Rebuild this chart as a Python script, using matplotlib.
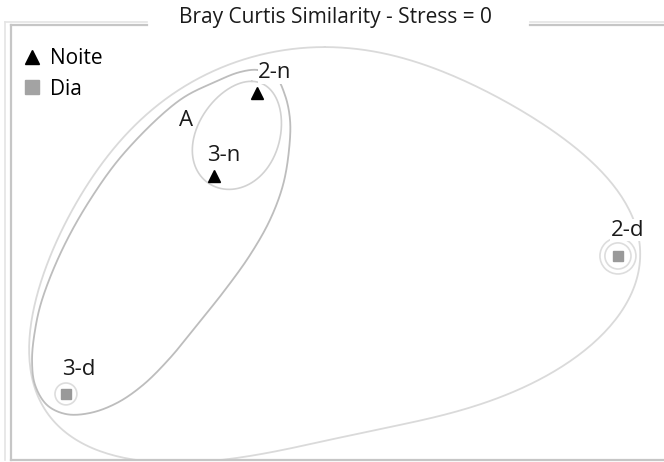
import numpy as np
import matplotlib
matplotlib.use("Agg")
import matplotlib.pyplot as plt
from matplotlib.lines import Line2D
from matplotlib.patches import Circle

plt.rcParams['font.family'] = ['Open Sans', 'DejaVu Sans']

# --- data (NMDS coordinates) ---
samples = ["2-n", "3-n", "2-d", "3-d"]
groups = ["Noite", "Noite", "Dia", "Dia"]
nmds1 = [-0.533, -0.820, 1.873, -1.807]
nmds2 = [0.993, 0.440, -0.093, -1.013]

# cluster contours (similarity overlays), traced points
small_x = [-0.58, -0.46, -0.393, -0.38, -0.40, -0.513, -0.647, -0.767, -0.88, -0.933, -0.96, -0.927, -0.847, -0.727]
small_y = [1.087, 1.06, 0.96, 0.813, 0.68, 0.447, 0.36, 0.347, 0.38, 0.467, 0.60, 0.747, 0.893, 1.013]

mid_x = [-0.527, -0.413, -0.347, -0.313, -0.32, -0.36, -0.447, -0.58, -0.747, -0.933, -1.113, -1.293, -1.467,
         -1.647, -1.807, -1.933, -2.013, -2.033, -2.013, -1.967, -1.833, -1.647, -1.413, -1.047, -0.813, -0.647]
mid_y = [1.147, 1.107, 0.98, 0.813, 0.613, 0.38, 0.147, -0.087, -0.32, -0.553, -0.773, -0.953, -1.073,
         -1.14, -1.147, -1.087, -0.953, -0.787, -0.587, -0.387, -0.053, 0.28, 0.60, 0.947, 1.067, 1.133]

big_x = [-0.08, 0.633, 1.30, 1.747, 2.013, 2.04, 1.953, 1.587, 1.087, 0.64, -0.027, -0.813, -1.247,
         -1.58, -1.893, -2.027, -2.073, -1.993, -1.88, -1.713, -1.50, -1.247, -0.693]
big_y = [1.307, 1.167, 0.793, 0.50, 0.167, -0.087, -0.387, -0.733, -1.007, -1.187, -1.333, -1.447, -1.42,
         -1.387, -1.253, -1.033, -0.72, -0.387, -0.053, 0.28, 0.613, 0.88, 1.193]

# rings around single-sample clusters: (sample index, radius)
rings = [(2, 0.12), (2, 0.087), (3, 0.073)]

label_offsets = [(13, 7), (7, 7), (7, 11), (9, 10)]


def smooth_contour(xs, ys, k=3, n=400):
    # low-order Fourier fit of the traced points -> smooth closed outline
    p = np.column_stack([xs, ys])
    p = np.vstack([p, p[:1]])
    d = np.r_[0, np.cumsum(np.hypot(*np.diff(p, axis=0).T))]
    t = 2 * np.pi * d[:-1] / d[-1]

    def basis(tt):
        cols = [np.ones_like(tt)]
        for j in range(1, k + 1):
            cols += [np.cos(j * tt), np.sin(j * tt)]
        return np.column_stack(cols)

    A = basis(t)
    cx = np.linalg.lstsq(A, p[:-1, 0], rcond=None)[0]
    cy = np.linalg.lstsq(A, p[:-1, 1], rcond=None)[0]
    tt = np.linspace(0, 2 * np.pi, n)
    B = basis(tt)
    return B @ cx, B @ cy


def closed_spline(xs, ys, n=25, alpha=0.5):
    # periodic centripetal Catmull-Rom through the traced points
    p = np.column_stack([xs, ys])
    m = len(p)
    out = []
    for i in range(m):
        P0, P1, P2, P3 = p[i - 1], p[i], p[(i + 1) % m], p[(i + 2) % m]
        t0 = 0.0
        t1 = t0 + np.linalg.norm(P1 - P0) ** alpha
        t2 = t1 + np.linalg.norm(P2 - P1) ** alpha
        t3 = t2 + np.linalg.norm(P3 - P2) ** alpha
        t = np.linspace(t1, t2, n, endpoint=False)[:, None]
        A1 = (t1 - t) / (t1 - t0) * P0 + (t - t0) / (t1 - t0) * P1
        A2 = (t2 - t) / (t2 - t1) * P1 + (t - t1) / (t2 - t1) * P2
        A3 = (t3 - t) / (t3 - t2) * P2 + (t - t2) / (t3 - t2) * P3
        B1 = (t2 - t) / (t2 - t0) * A1 + (t - t0) / (t2 - t0) * A2
        B2 = (t3 - t) / (t3 - t1) * A2 + (t - t1) / (t3 - t1) * A3
        out.append((t2 - t) / (t2 - t1) * B1 + (t - t1) / (t2 - t1) * B2)
    out.append(p[:1])
    out = np.vstack(out)
    return out[:, 0], out[:, 1]


fig = plt.figure(figsize=(6.64, 4.62), dpi=100)
ax = fig.add_axes([11 / 664, 2 / 462, 653 / 664, 435 / 462])
ax.set_xlim(-2.1733, 2.18)
ax.set_ylim(-1.4533, 1.4467)
ax.set_xticks([])
ax.set_yticks([])

for s in ["left", "bottom"]:
    ax.spines[s].set_color("#c6c6c6")
    ax.spines[s].set_linewidth(1.6)
ax.spines["right"].set_visible(False)
ax.spines["top"].set_visible(False)
# top frame broken by the title
for x0, x1 in [(0, 0.208), (0.795, 1.0)]:
    ax.plot([x0, x1], [1, 1], transform=ax.transAxes, color="#c6c6c6", lw=1.6, clip_on=False)
# faint outer frame
fig.add_artist(Line2D([5 / 664, 5 / 664], [1 - 22 / 462, 1 - 460 / 462], color="#e4e4e4", lw=1.2))
fig.add_artist(Line2D([5 / 664, 147 / 664], [1 - 22 / 462, 1 - 22 / 462], color="#e4e4e4", lw=1.2))
fig.add_artist(Line2D([530 / 664, 1], [1 - 22 / 462, 1 - 22 / 462], color="#e4e4e4", lw=1.2))

# contours
bx, by = smooth_contour(big_x, big_y, k=4)
ax.plot(bx, by, color="#dadada", lw=1.3, zorder=1)
mx, my = closed_spline(mid_x, mid_y)
ax.plot(mx, my, color="#bdbdbd", lw=1.3, zorder=1)
sx, sy = smooth_contour(small_x, small_y, k=2)
ax.plot(sx, sy, color="#d2d2d2", lw=1.2, zorder=1)

for idx, r in rings:
    ax.add_patch(Circle((nmds1[idx], nmds2[idx]), r, fill=False, ec="#dddddd", lw=1.2, zorder=1))

# points
for g, mk, col, ms in [("Noite", "^", "black", 8.5), ("Dia", "s", "#999999", 7.5)]:
    xs = [x for x, gg in zip(nmds1, groups) if gg == g]
    ys = [y for y, gg in zip(nmds2, groups) if gg == g]
    ax.plot(xs, ys, linestyle="none", marker=mk, color=col, markersize=ms, zorder=3)

for name, x, y, off in zip(samples, nmds1, nmds2, label_offsets):
    ax.annotate(name, (x, y), xytext=off, textcoords="offset points", ha="center", va="bottom",
                fontsize=16, color="#1a1a1a", bbox=dict(fc="white", ec="none", pad=0.3), zorder=4)

ax.text(-1.007, 0.807, "A", fontsize=16, color="#1a1a1a", ha="center", va="center",
        bbox=dict(fc="white", ec="none", pad=0.3), zorder=4)

handles = [Line2D([], [], linestyle="none", marker="^", color="black", markersize=10.5),
           Line2D([], [], linestyle="none", marker="s", color="#a3a3a3", markersize=10)]
ax.legend(handles, ["Noite", "Dia"], loc="upper left", bbox_to_anchor=(-0.006, 0.975), frameon=False,
          fontsize=15, handletextpad=0.25, handlelength=1.2, labelspacing=0.45, borderaxespad=0.2)

fig.text(335 / 664, 1 - 18 / 462, "Bray Curtis Similarity - Stress = 0", ha="center", va="center",
         fontsize=15, color="#1a1a1a")

fig.savefig("out.png", dpi=100)
